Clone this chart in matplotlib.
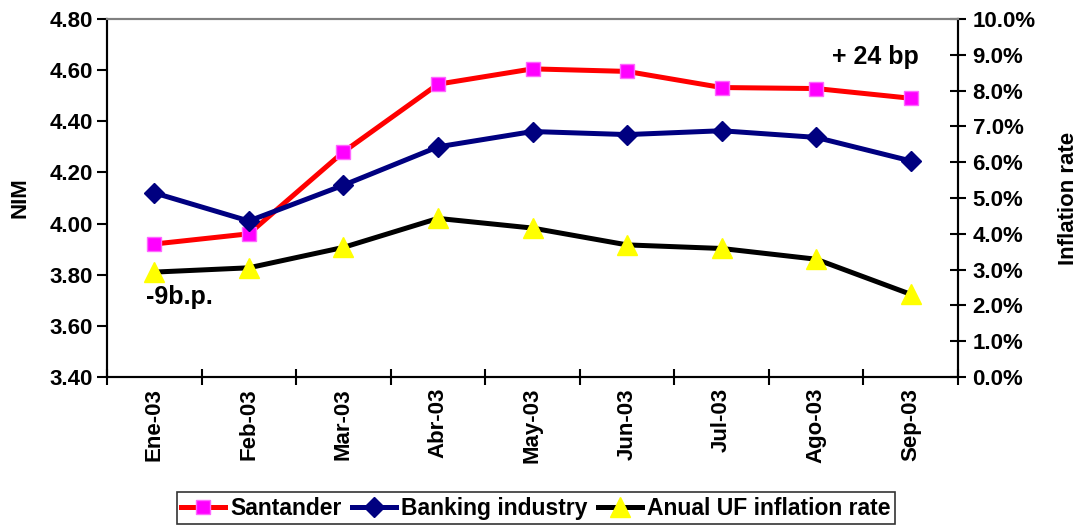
import matplotlib
matplotlib.use("Agg")
import matplotlib.pyplot as plt
from matplotlib.ticker import FuncFormatter, MultipleLocator

months = ["Ene-03", "Feb-03", "Mar-03", "Abr-03", "May-03", "Jun-03", "Jul-03", "Ago-03", "Sep-03"]
santander = [3.92, 3.96, 4.28, 4.545, 4.605, 4.595, 4.532, 4.528, 4.49]
banking = [4.12, 4.01, 4.15, 4.30, 4.36, 4.348, 4.363, 4.337, 4.245]
inflation = [2.93, 3.05, 3.62, 4.43, 4.16, 3.69, 3.59, 3.29, 2.31]

plt.rcParams['font.family'] = ['Liberation Sans', 'DejaVu Sans']
plt.rcParams['font.weight'] = 'bold'

fig = plt.figure(figsize=(10.82, 5.25), dpi=100)
ax = fig.add_axes([107/1082, 1-377/525, (958-107)/1082, (377-19)/525])
ax2 = ax.twinx()

x = list(range(len(months)))
l1, = ax.plot(x, santander, color='#FF0000', lw=3.6, marker='s', markersize=10,
              markerfacecolor='#FF00FF', markeredgecolor='#FF66FF', markeredgewidth=1, zorder=3,
              label='Santander')
l2, = ax.plot(x, banking, color='#000080', lw=3.6, marker='D', markersize=10.5,
              markerfacecolor='#000080', markeredgecolor='#000080', zorder=4,
              label='Banking industry')
l3, = ax2.plot(x, inflation, color='#000000', lw=3.6, marker='^', markersize=14,
               markerfacecolor='#FFFF00', markeredgecolor='#FFFF00', zorder=3,
               label='Anual UF inflation rate')

ax.set_xlim(-0.5, len(months) - 0.5)
ax.set_ylim(3.40, 4.80)
ax2.set_ylim(0, 10)
ax.yaxis.set_major_locator(MultipleLocator(0.2))
ax.yaxis.set_major_formatter(FuncFormatter(lambda v, p: f"{v:.2f}"))
ax2.yaxis.set_major_locator(MultipleLocator(1))
ax2.yaxis.set_major_formatter(FuncFormatter(lambda v, p: f"{v:.1f}%"))

FS = 16
ax.set_xticks(x)
ax.set_xticklabels(months, rotation=90, fontsize=FS, fontweight='bold')
ax.set_xticks([i + 0.5 for i in range(-1, len(months))], minor=True)
ax.tick_params(axis='x', which='major', length=0, pad=8)
ax.tick_params(axis='x', which='minor', direction='inout', length=11, width=1.5)
ax.tick_params(axis='y', direction='out', length=7, width=1.5, labelsize=FS, pad=3)
ax2.tick_params(axis='y', direction='inout', length=11, width=1.5, labelsize=FS, pad=5)
for lab in ax.get_yticklabels() + ax2.get_yticklabels():
    lab.set_fontweight('bold')

for a in (ax, ax2):
    a.spines['top'].set_color('#808080')
    a.spines['top'].set_linewidth(1.5)
    a.spines['left'].set_linewidth(1.5)
    a.spines['bottom'].set_linewidth(1.5)
    a.spines['right'].set_linewidth(1.5)

ax.set_ylabel('NIM', fontsize=FS, fontweight='bold', labelpad=14)
ax2.set_ylabel('Inflation rate', fontsize=FS, fontweight='bold', labelpad=16)

ax.text(7.17, 4.652, '+ 24 bp', fontsize=18, fontweight='bold', va='center', ha='left')
ax.text(-0.09, 3.712, '-9b.p.', fontsize=18, fontweight='bold', va='center', ha='left')

leg = fig.legend(handles=[l1, l2, l3], loc='upper center', bbox_to_anchor=(536/1082, 1-492/525),
                 ncol=3, frameon=True, fancybox=False, fontsize=16.5, handlelength=1.9,
                 columnspacing=0.45, handletextpad=0.25, borderpad=0.2, borderaxespad=0)
leg.get_frame().set_edgecolor('black')
leg.get_frame().set_linewidth(1.2)
for t in leg.get_texts():
    t.set_fontweight('bold')

fig.savefig('out.png', dpi=100)
